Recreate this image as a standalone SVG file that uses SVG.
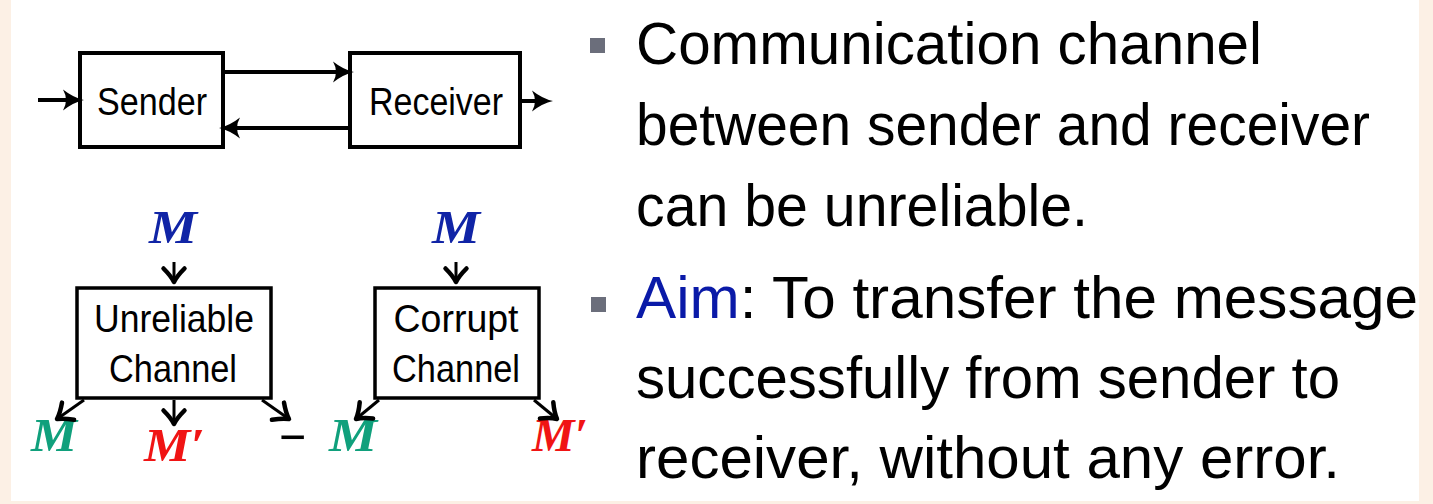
<svg xmlns="http://www.w3.org/2000/svg" width="1433" height="504" viewBox="0 0 1433 504">
  <style>
    .box { fill: #ffffff; stroke: #000000; }
    .lbl { font-family: "Liberation Sans", Arial, sans-serif; font-size: 39px; fill: #000000; text-anchor: middle; }
    .body { font-family: "Liberation Sans", Arial, sans-serif; font-size: 60px; fill: #000000; }
    .math { font-family: "Liberation Serif", "Times New Roman", serif; font-style: italic; font-weight: bold; font-size: 46px; }
    .blue { fill: #1024a6; }
    .green { fill: #10a07c; }
    .red { fill: #f01414; }
    .thick { stroke: #000000; stroke-width: 4; fill: none; }
    .thin { stroke: #000000; stroke-width: 3; fill: none; }
    .bullet { fill: #6b6e7b; }
  </style>
  <defs>
    <marker id="tipFilled" markerUnits="userSpaceOnUse" orient="auto" refX="0" refY="0" markerWidth="30" markerHeight="30" viewBox="-2 -10 20 20" overflow="visible">
      <path d="M -2 -7 Q 5 -1.5 12 0 Q 5 1.5 -2 7 Q 2 0 -2 -7 Z" fill="#000000"/>
    </marker>
    <marker id="tipOpen" markerUnits="userSpaceOnUse" orient="auto" refX="0" refY="0" markerWidth="30" markerHeight="30" viewBox="-12 -10 20 20" overflow="visible">
      <path d="M -9 -7 Q -4 -2 0 0 Q -4 2 -9 7" fill="none" stroke="#000000" stroke-width="3" stroke-linecap="round" stroke-linejoin="round"/>
    </marker>
  </defs>

  <!-- background frame -->
  <rect x="0" y="0" width="1433" height="504" fill="#fcf0e5"/>
  <rect x="11" y="0" width="1408" height="501" fill="#ffffff"/>

  <!-- nodes -->
  <g id="sender">
    <rect class="box" x="80" y="53" width="143" height="94" stroke-width="4"/>
    <text class="lbl" x="152" y="115" textLength="110" lengthAdjust="spacingAndGlyphs">Sender</text>
  </g>
  <g id="receiver">
    <rect class="box" x="350" y="53" width="170" height="94" stroke-width="4"/>
    <text class="lbl" x="436" y="115" textLength="134" lengthAdjust="spacingAndGlyphs">Receiver</text>
  </g>
  <g id="unreliable-channel">
    <rect class="box" x="77" y="288" width="194" height="110" stroke-width="3.5"/>
    <text class="lbl" x="174" y="332" textLength="160" lengthAdjust="spacingAndGlyphs">Unreliable</text>
    <text class="lbl" x="173" y="382" textLength="128" lengthAdjust="spacingAndGlyphs">Channel</text>
  </g>
  <g id="corrupt-channel">
    <rect class="box" x="375" y="288" width="164" height="110" stroke-width="3.5"/>
    <text class="lbl" x="456" y="332" textLength="125" lengthAdjust="spacingAndGlyphs">Corrupt</text>
    <text class="lbl" x="456" y="382" textLength="128" lengthAdjust="spacingAndGlyphs">Channel</text>
  </g>

  <!-- math labels -->
  <g id="labels-unreliable">
    <text class="math blue" x="149" y="243" textLength="48" lengthAdjust="spacingAndGlyphs">M</text>
    <text class="math green" x="31" y="451" textLength="46" lengthAdjust="spacingAndGlyphs">M</text>
    <text class="math red" x="144" y="461" textLength="61" lengthAdjust="spacingAndGlyphs">M′</text>
    <text x="279" y="454" font-family="Liberation Sans, Arial, sans-serif" font-size="50" fill="#000000" textLength="27" lengthAdjust="spacingAndGlyphs">−</text>
  </g>
  <g id="labels-corrupt">
    <text class="math blue" x="432" y="243" textLength="48" lengthAdjust="spacingAndGlyphs">M</text>
    <text class="math green" x="329" y="451" textLength="48" lengthAdjust="spacingAndGlyphs">M</text>
    <text class="math red" x="532" y="451" textLength="56" lengthAdjust="spacingAndGlyphs">M′</text>
  </g>

  <!-- connectors -->
  <g id="connectors">
    <line class="thick" x1="38" y1="100" x2="66" y2="100" marker-end="url(#tipFilled)"/>
    <line class="thick" x1="225" y1="72" x2="336" y2="72" marker-end="url(#tipFilled)"/>
    <line class="thick" x1="348" y1="128" x2="237" y2="128" marker-end="url(#tipFilled)"/>
    <line class="thick" x1="522" y1="101" x2="535" y2="101" marker-end="url(#tipFilled)"/>

    <line class="thin" x1="174" y1="262" x2="174" y2="282" marker-end="url(#tipOpen)"/>
    <line class="thin" x1="456" y1="262" x2="456" y2="282" marker-end="url(#tipOpen)"/>
    <line class="thin" x1="84" y1="400" x2="57" y2="419" marker-end="url(#tipOpen)"/>
    <line class="thin" x1="174" y1="400" x2="174" y2="424" marker-end="url(#tipOpen)"/>
    <line class="thin" x1="262" y1="400" x2="289" y2="419" marker-end="url(#tipOpen)"/>
    <line class="thin" x1="379" y1="400" x2="356" y2="419" marker-end="url(#tipOpen)"/>
    <line class="thin" x1="534" y1="400" x2="557" y2="419" marker-end="url(#tipOpen)"/>
  </g>

  <!-- bullet text -->
  <g id="bullets">
    <rect class="bullet" x="590" y="38" width="15" height="15"/>
    <text class="body" x="636" y="64" textLength="626" lengthAdjust="spacingAndGlyphs">Communication channel</text>
    <text class="body" x="636" y="145" textLength="734" lengthAdjust="spacingAndGlyphs">between sender and receiver</text>
    <text class="body" x="636" y="226" textLength="452" lengthAdjust="spacingAndGlyphs">can be unreliable.</text>

    <rect class="bullet" x="591" y="297" width="15" height="15"/>
    <text class="body" x="636" y="318" textLength="782" lengthAdjust="spacingAndGlyphs"><tspan fill="#0a1aa8">Aim</tspan>: To transfer the message</text>
    <text class="body" x="636" y="398" textLength="704" lengthAdjust="spacingAndGlyphs">successfully from sender to</text>
    <text class="body" x="636" y="478" textLength="704" lengthAdjust="spacingAndGlyphs">receiver, without any error.</text>
  </g>
</svg>
